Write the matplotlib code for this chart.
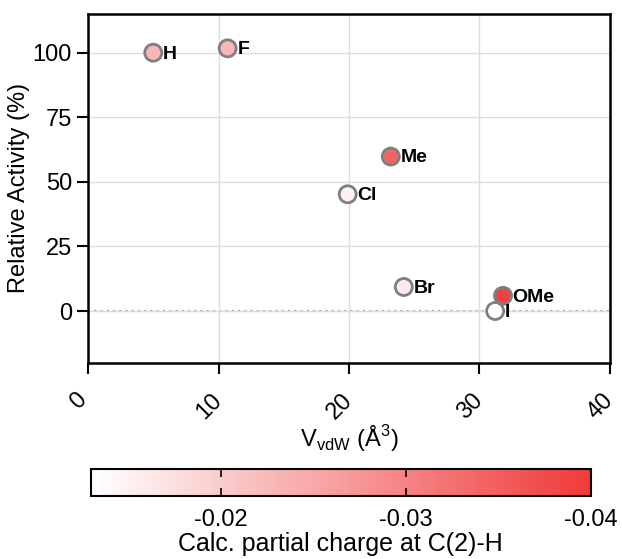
import matplotlib
matplotlib.use("Agg")
import matplotlib.pyplot as plt
import matplotlib.transforms as mtransforms
from matplotlib.colors import LinearSegmentedColormap, Normalize
from matplotlib.cm import ScalarMappable

plt.rcParams["font.family"] = ["Liberation Sans", "DejaVu Sans"]
plt.rcParams["mathtext.fontset"] = "custom"
plt.rcParams["mathtext.rm"] = "Liberation Sans"

# substituents, vdW volume, relative activity, partial charge
labels = ["H", "F", "Me", "Cl", "Br", "OMe", "I"]
vdw = [5.0, 10.7, 23.2, 19.9, 24.2, 31.8, 31.2]
activity = [100.0, 101.7, 59.8, 45.2, 9.3, 5.9, 0.0]
charge = [-0.023, -0.023, -0.034, -0.015, -0.016, -0.039, -0.013]

cb_ticks = [-0.02, -0.03, -0.04]
# more negative charge -> stronger red
cmap = LinearSegmentedColormap.from_list("rw", ["#f03a3a", "#ffffff"])
norm = Normalize(vmin=-0.040, vmax=-0.013)

fig = plt.figure(figsize=(6.22, 5.59), dpi=100)
ax = fig.add_axes([0.1415, 0.3512, 0.8392, 0.6238])

ax.grid(True, color="#dddddd", linewidth=1.0, zorder=0)
ax.axhline(0, color="#999999", linestyle=(0, (1, 2)), linewidth=1.5, zorder=1)

ax.scatter(vdw, activity, c=charge, cmap=cmap, norm=norm, s=150,
           edgecolors="#7f7f7f", linewidths=2.0, zorder=3)
for lab, x, y in zip(labels, vdw, activity):
    ax.annotate(lab, (x, y), xytext=(7, -1), textcoords="offset points",
                ha="left", va="center", fontsize=14, fontweight="bold", zorder=4)

ax.set_xlim(0, 40)
ax.set_ylim(-20, 115)
ax.set_xticks([0, 10, 20, 30, 40])
ax.set_yticks([0, 25, 50, 75, 100])
ax.tick_params(axis="both", labelsize=17, length=8, width=1.5, direction="out")
ax.tick_params(axis="x", pad=11)
shift = mtransforms.ScaledTranslation(-9 / 100, 0, fig.dpi_scale_trans)
for lbl in ax.get_xticklabels():
    lbl.set_rotation(45)
    lbl.set_ha("center")
    lbl.set_va("top")
    lbl.set_transform(lbl.get_transform() + shift)
for sp in ax.spines.values():
    sp.set_linewidth(1.8)
ax.set_xlabel(r"V$_{\mathrm{vdW}}$ (Å$^3$)", fontsize=17, labelpad=0)
ax.set_ylabel("Relative Activity (%)", fontsize=17, labelpad=2)

cax = fig.add_axes([0.1463, 0.1127, 0.8034, 0.0478])
cb = fig.colorbar(ScalarMappable(norm=norm, cmap=cmap), cax=cax, orientation="horizontal")
cax.invert_xaxis()
cb.set_ticks(cb_ticks)
cb.set_ticklabels(["-0.02", "-0.03", "-0.04"])
cax.tick_params(labelsize=17, direction="in", length=6, width=1.2, top=True, bottom=True, pad=9)
cb.outline.set_linewidth(1.5)
cb.set_label("Calc. partial charge at C(2)-H", fontsize=18, labelpad=1)

fig.savefig("out.png", dpi=100)
